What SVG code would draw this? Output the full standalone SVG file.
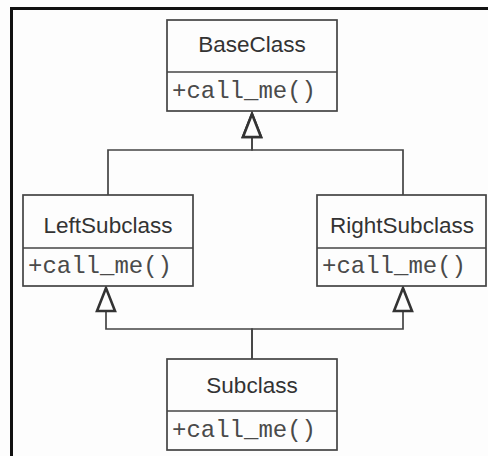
<svg xmlns="http://www.w3.org/2000/svg" width="488" height="456" viewBox="0 0 488 456">
<defs>
<style>
.box{fill:#fdfdfd;stroke:#444;stroke-width:1.7}
.div{stroke:#444;stroke-width:1.7}
.name{font-family:"Liberation Sans",Arial,sans-serif;font-size:22.5px;fill:#333;text-anchor:middle}
.op{font-family:"Liberation Mono","Courier New",monospace;font-size:24px;fill:#4a4a4a}
.conn{fill:none;stroke:#444;stroke-width:1.7;marker-end:url(#tri)}
</style>
<marker id="tri" markerUnits="userSpaceOnUse" viewBox="0 0 24 20" refX="24" refY="10" markerWidth="24" markerHeight="20" orient="auto" overflow="visible">
<path d="M1,1 L24,10 L1,19 z" fill="#fdfdfd" stroke="#333" stroke-width="2.6" stroke-linejoin="miter"/>
</marker>
</defs>
<rect width="488" height="456" fill="#fdfdfd"/>
<path d="M11.5,460 V8.5 H492" fill="none" stroke="#111" stroke-width="3"/>
<g id="connectors">
<path class="conn" d="M108,195 V150 H252 V114"/>
<path class="conn" d="M403,195 V150 H252 V114"/>
<path class="conn" d="M252,359 V329 H106 V288"/>
<path class="conn" d="M252,359 V329 H403 V288"/>
</g>
<g id="BaseClass">
<rect class="box" x="167" y="20" width="170" height="91"/>
<line class="div" x1="167" y1="72" x2="337" y2="72"/>
<text class="name" x="252" y="52">BaseClass</text>
<text class="op" x="172" y="98">+call_me()</text>
</g>
<g id="LeftSubclass">
<rect class="box" x="23" y="195" width="170" height="91"/>
<line class="div" x1="23" y1="248" x2="193" y2="248"/>
<text class="name" x="108" y="233">LeftSubclass</text>
<text class="op" x="28" y="273">+call_me()</text>
</g>
<g id="RightSubclass">
<rect class="box" x="317" y="195" width="169" height="91"/>
<line class="div" x1="317" y1="248" x2="486" y2="248"/>
<text class="name" x="402" y="233">RightSubclass</text>
<text class="op" x="322" y="273">+call_me()</text>
</g>
<g id="Subclass">
<rect class="box" x="167" y="359" width="170" height="91"/>
<line class="div" x1="167" y1="411" x2="337" y2="411"/>
<text class="name" x="252" y="393">Subclass</text>
<text class="op" x="172" y="437">+call_me()</text>
</g>
</svg>
